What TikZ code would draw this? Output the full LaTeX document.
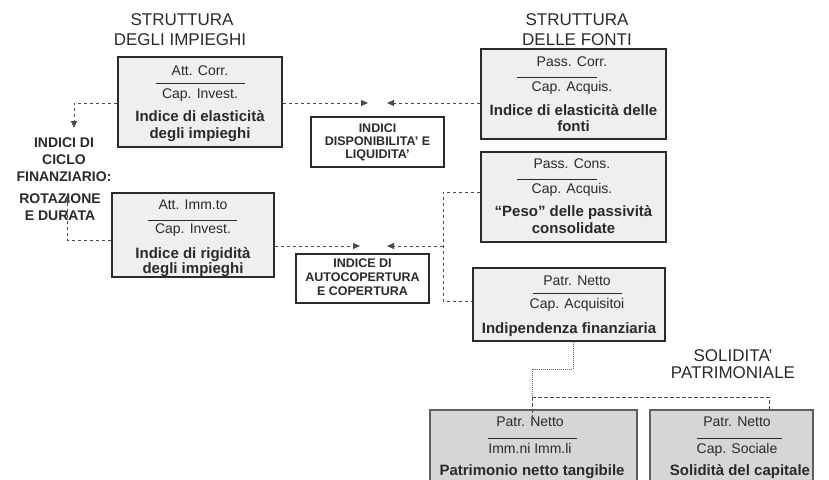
\documentclass[tikz,border=0pt]{standalone}
\usepackage{fontspec}
\setmainfont{Liberation Sans}
\usetikzlibrary{arrows.meta}
\definecolor{boxfill}{HTML}{EFEFEF}
\definecolor{darkfill}{HTML}{D6D6D6}
\definecolor{ink}{HTML}{2A2A2A}
\tikzset{
  box/.style={draw=ink, line width=1.2pt, fill=boxfill, inner sep=0pt},
  darkbox/.style={box, draw=ink!75, fill=darkfill},
  plainbox/.style={draw=ink, line width=1.1pt, fill=white, inner sep=0pt},
  conn/.style={draw=ink!85, line width=1pt, dash pattern=on 3.5pt off 2.5pt},
  fine/.style={draw=ink!70, line width=0.9pt, dash pattern=on 1pt off 1pt},
  arr/.style={-{Triangle[length=7pt,width=6pt]}},
  frac/.style={draw=ink, line width=1pt},
  headtxt/.style={font=\fontsize{17}{19}\selectfont, inner sep=0pt, text height=0.72em, text depth=0pt, text=ink},
  numtxt/.style={font=\fontsize{14}{16}\selectfont, inner sep=0pt, text height=0.72em, text depth=0pt, text=ink},
  boldtxt/.style={font=\fontsize{15}{17}\bfseries\selectfont, inner sep=0pt, text height=0.72em, text depth=0pt, text=ink},
  smalltxt/.style={font=\fontsize{12.5}{14}\bfseries\selectfont, inner sep=0pt, text height=0.72em, text depth=0pt, text=ink},
  sidetxt/.style={font=\fontsize{14}{16}\bfseries\selectfont, inner sep=0pt, text height=0.72em, text depth=0pt, text=ink},
}
\begin{document}
\begin{tikzpicture}[x=1pt, y=-1pt]
\useasboundingbox (0,0) rectangle (829,479);
\clip (0,0) rectangle (829,479);

% headings
\node[headtxt] (h1a) at (182,22) {STRUTTURA};
\node[headtxt] (h1b) at (180,42) {DEGLI IMPIEGHI};
\node[headtxt] (h2a) at (577,22) {STRUTTURA};
\node[headtxt] (h2b) at (577,42) {DELLE FONTI};
\node[headtxt] (h3a) at (733,358) {SOLIDITA'};
\node[headtxt] (h3b) at (733,375) {PATRIMONIALE};

% left side labels
\node[sidetxt] (l1) at (64,144) {INDICI DI};
\node[sidetxt] (l2) at (64,161) {CICLO};
\node[sidetxt] (l3) at (64,178) {FINANZIARIO:};
\node[sidetxt] (l4) at (60,200) {ROTAZIONE};
\node[sidetxt] (l5) at (60,217) {E DURATA};

% boxes
\node[box, minimum width=164pt, minimum height=90pt] (b1) at (200,102) {};
\node[box, minimum width=162pt, minimum height=84pt] (b2) at (193,235) {};
\node[plainbox, minimum width=133pt, minimum height=50pt] (ind) at (377.5,142) {};
\node[plainbox, minimum width=133pt, minimum height=49pt] (aut) at (362.5,278.5) {};
\node[box, minimum width=185pt, minimum height=90pt] (pc) at (573.5,94) {};
\node[box, minimum width=185pt, minimum height=90pt] (pk) at (573.5,197) {};
\node[box, minimum width=192pt, minimum height=73pt] (pn) at (569,304.5) {};
\node[darkbox, minimum width=207pt, minimum height=90pt] (bl) at (533.5,455) {};
\node[darkbox, minimum width=163pt, minimum height=90pt] (br) at (731.5,455) {};

% box 1
\node[numtxt] (b1t) at (200,72) {Att. Corr.};
\draw[frac] (156,83) -- (245,83);
\node[numtxt] (b1u) at (200,95) {Cap. Invest.};
\node[boldtxt] (b1v) at (200,118) {Indice di elasticità};
\node[boldtxt] (b1w) at (200,135) {degli impieghi};

% box 2
\node[numtxt] (b2t) at (193,206) {Att. Imm.to};
\draw[frac] (148,220) -- (237,220);
\node[numtxt] (b2u) at (193,230) {Cap. Invest.};
\node[boldtxt] (b2v) at (193,255) {Indice di rigidità};
\node[boldtxt] (b2w) at (193,270) {degli impieghi};

% small boxes
\node[smalltxt] (i1) at (377.5,129) {INDICI};
\node[smalltxt] (i2) at (377.5,142) {DISPONIBILITA' E};
\node[smalltxt] (i3) at (377.5,155) {LIQUIDITA'};
\node[smalltxt] (a1) at (362.5,264) {INDICE DI};
\node[smalltxt] (a2) at (362.5,278) {AUTOCOPERTURA};
\node[smalltxt] (a3) at (362.5,292) {E COPERTURA};

% passivita correnti
\node[numtxt] (pct) at (572,63) {Pass. Corr.};
\draw[frac] (517,77) -- (597,77);
\node[numtxt] (pcu) at (572,88) {Cap. Acquis.};
\node[boldtxt] (pcv) at (573.5,112) {Indice di elasticità delle};
\node[boldtxt] (pcw) at (573.5,128) {fonti};

% passivita consolidate
\node[numtxt] (pkt) at (572,165) {Pass. Cons.};
\draw[frac] (517,179) -- (597,179);
\node[numtxt] (pku) at (572,190) {Cap. Acquis.};
\node[boldtxt] (pkv) at (573.5,213) {“Peso” delle passività};
\node[boldtxt] (pkw) at (573.5,230) {consolidate};

% patrimonio netto
\node[numtxt] (pnt) at (577,282) {Patr. Netto};
\draw[frac] (533,293) -- (622,293);
\node[numtxt] (pnu) at (577,305) {Cap. Acquisitoi};
\node[boldtxt] (pnv) at (569,330) {Indipendenza finanziaria};

% bottom boxes
\node[numtxt] (blt) at (530,423) {Patr. Netto};
\draw[frac] (488,438) -- (577,438);
\node[numtxt] (blu) at (530,450) {Imm.ni Imm.li};
\node[boldtxt] (blv) at (532,472) {Patrimonio netto tangibile};
\node[numtxt] (brt) at (737,423) {Patr. Netto};
\draw[frac] (697,438) -- (782,438);
\node[numtxt] (bru) at (737,450) {Cap. Sociale};
\node[boldtxt] (brv) at (740,472) {Solidità del capitale};

% connector end points
\coordinate (e1) at (74,128);
\coordinate (e2) at (368,103);
\coordinate (e3) at (387,103);
\coordinate (e4) at (67,195);
\coordinate (e5) at (360,246);
\coordinate (e6) at (387,246);
\coordinate (j1) at (443,301);
\coordinate (j2) at (443,246);
\coordinate (k1) at (532,369);
\coordinate (k2) at (532,397);
\coordinate (k3) at (532,425);

% connectors
\draw[conn, arr] ([yshift=-1pt]b1.west) -| (e1);
\draw[conn, arr] ([yshift=-1pt]b1.east) -- (e2);
\draw[conn, arr] (pc.west |- e3) -- (e3);
\draw[conn, arr] ([yshift=-5pt]b2.west) -| (e4);
\draw[conn, arr] (b2.east |- e5) -- (e5);
\draw[conn] ([yshift=5pt]pk.west) -| (j1) -- (pn.west |- j1);
\draw[conn, arr] (j2) -- (e6);
\draw[fine] ([xshift=4pt]pn.south) |- (k1) -- (k2);
\draw[conn] (k2) -- (k3);
\draw[conn] (k2) -| ([xshift=37.5pt]br.north);
\end{tikzpicture}
\end{document}
